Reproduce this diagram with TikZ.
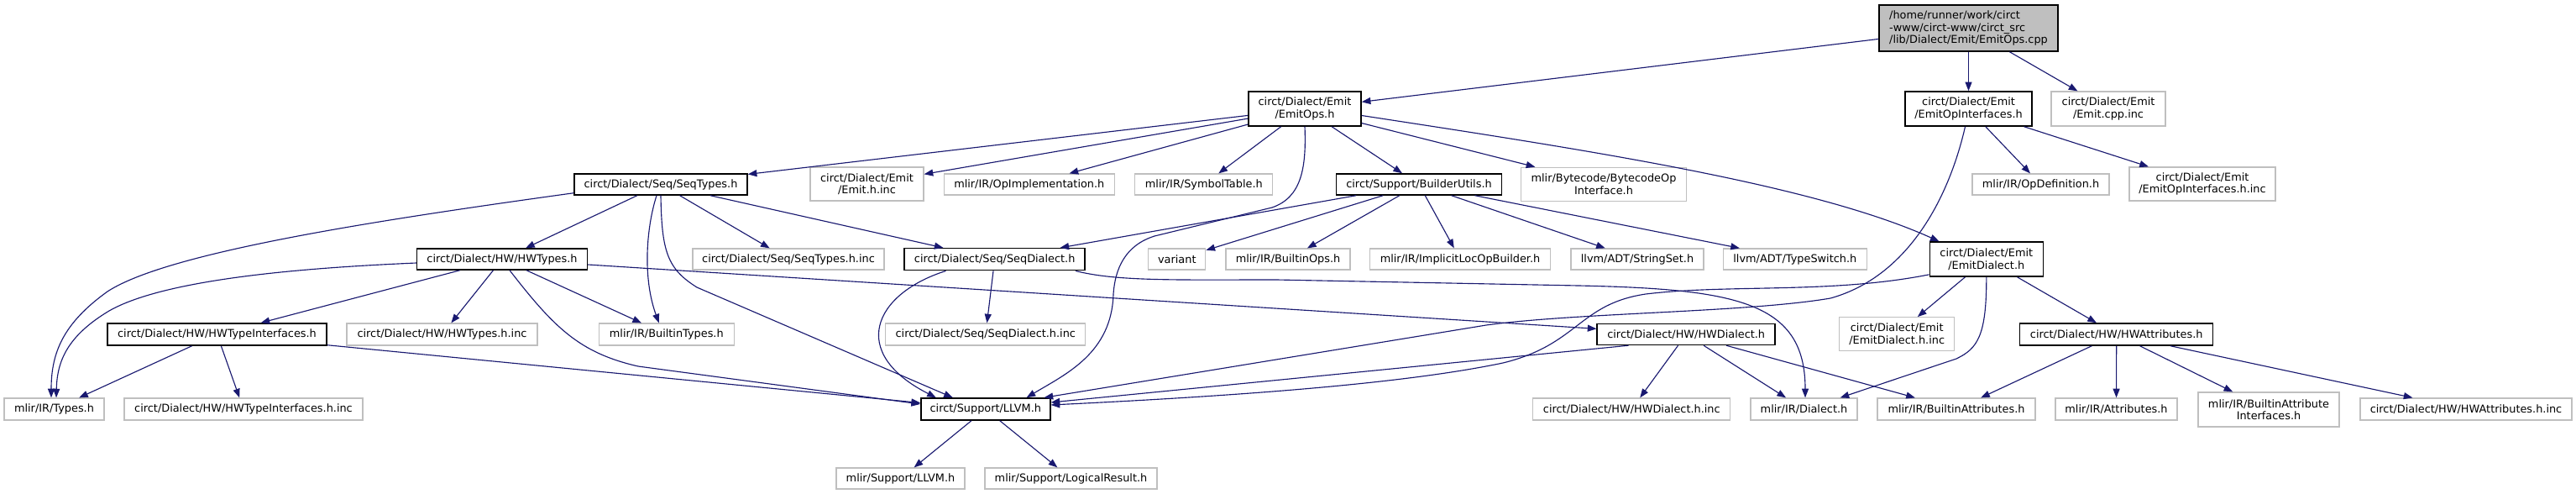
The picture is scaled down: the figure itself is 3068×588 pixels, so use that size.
\documentclass[tikz,border=0pt]{standalone}
\usepackage{fontspec}
\setmainfont{DejaVu Sans}
\usetikzlibrary{arrows.meta, calc}
\definecolor{edgeblue}{HTML}{191970}
\definecolor{boxgray}{HTML}{BFBFBF}

\begin{document}
\begin{tikzpicture}[x=0.75pt, y=-0.75pt,
  font=\fontsize{9.65}{10.8}\selectfont,
  sz/.style 2 args={minimum width=#1*0.75pt, minimum height=#2*0.75pt},
  incfile/.style={draw=boxgray, line width=0.9pt, inner sep=0pt, align=center},
  hdrfile/.style={incfile, draw=black, line width=1.1pt},
  srcfile/.style={hdrfile, fill=boxgray, align=left},
  dep/.style={draw=edgeblue, line width=0.85pt, -{Triangle[length=8pt, width=6pt]}}]

\useasboundingbox (0,0) rectangle (3068,588);

% =========== Source file ===========
\node[srcfile, sz={213}{55}] (emitopscpp) at (2344.5,33.5)
  {/home/runner/work/circt\\-www/circt-www/circt\_src\\/lib/Dialect/Emit/EmitOps.cpp};

% =========== Level 1 ===========
\node[hdrfile, sz={134}{41}] (emitops) at (1554,129.5) {circt/Dialect/Emit\\/EmitOps.h};
\node[hdrfile, sz={151}{41}] (emitopif) at (2344.5,129.5) {circt/Dialect/Emit\\/EmitOpInterfaces.h};
\node[incfile, sz={136}{41}] (emitcppinc) at (2511,129.5) {circt/Dialect/Emit\\/Emit.cpp.inc};

% =========== Level 2 ===========
\node[hdrfile, sz={206}{25}] (seqtypes) at (787,219.5) {circt/Dialect/Seq/SeqTypes.h};
\node[incfile, sz={135}{40}] (emithinc) at (1032.5,219) {circt/Dialect/Emit\\/Emit.h.inc};
\node[incfile, sz={203}{25}] (opimpl) at (1225.8,219.5) {mlir/IR/OpImplementation.h};
\node[incfile, sz={164}{25}] (symtab) at (1433.8,219.5) {mlir/IR/SymbolTable.h};
\node[hdrfile, sz={197}{25}] (builderutils) at (1690,219.5) {circt/Support/BuilderUtils.h};
\node[incfile, sz={197}{40}] (bytecode) at (1910,219.3) {mlir/Bytecode/BytecodeOp\\Interface.h};
\node[incfile, sz={163}{25}] (opdef) at (2430.5,219.5) {mlir/IR/OpDefinition.h};
\node[incfile, sz={174}{40}] (emitopifinc) at (2623,219) {circt/Dialect/Emit\\/EmitOpInterfaces.h.inc};

% =========== Level 3 ===========
\node[hdrfile, sz={203}{25}] (hwtypes) at (598,308.5) {circt/Dialect/HW/HWTypes.h};
\node[incfile, sz={228}{25}] (seqtypesinc) at (939,308.5) {circt/Dialect/Seq/SeqTypes.h.inc};
\node[hdrfile, sz={215}{26}] (seqdialect) at (1184.7,308.7) {circt/Dialect/Seq/SeqDialect.h};
\node[incfile, sz={68}{25}] (variant) at (1401.8,308.5) {variant};
\node[incfile, sz={148}{25}] (builtinops) at (1534,308.5) {mlir/IR/BuiltinOps.h};
\node[incfile, sz={215}{25}] (implicitloc) at (1739,308.5) {mlir/IR/ImplicitLocOpBuilder.h};
\node[incfile, sz={158}{25}] (stringset) at (1950,308.5) {llvm/ADT/StringSet.h};
\node[incfile, sz={171}{25}] (typeswitch) at (2137.8,308.5) {llvm/ADT/TypeSwitch.h};
\node[hdrfile, sz={135}{41}] (emitdialect) at (2365.8,308.6) {circt/Dialect/Emit\\/EmitDialect.h};

% =========== Level 4 ===========
\node[hdrfile, sz={261}{26}] (hwtypeif) at (258.5,398) {circt/Dialect/HW/HWTypeInterfaces.h};
\node[incfile, sz={227}{26}] (hwtypesinc) at (526.5,398) {circt/Dialect/HW/HWTypes.h.inc};
\node[incfile, sz={161}{26}] (builtintypes) at (793.8,398) {mlir/IR/BuiltinTypes.h};
\node[incfile, sz={238}{26}] (seqdialectinc) at (1173.8,398) {circt/Dialect/Seq/SeqDialect.h.inc};
\node[hdrfile, sz={212}{25}] (hwdialect) at (2008.2,398) {circt/Dialect/HW/HWDialect.h};
\node[incfile, sz={137}{40}] (emitdialectinc) at (2259.2,397.7) {circt/Dialect/Emit\\/EmitDialect.h.inc};
\node[hdrfile, sz={230}{26}] (hwattrs) at (2520.7,398) {circt/Dialect/HW/HWAttributes.h};

% =========== Level 5 ===========
\node[incfile, sz={119}{26}] (types) at (64.5,487) {mlir/IR/Types.h};
\node[incfile, sz={284}{26}] (hwtypeifinc) at (290,487) {circt/Dialect/HW/HWTypeInterfaces.h.inc};
\node[hdrfile, sz={154}{26}] (llvm) at (1173.8,487) {circt/Support/LLVM.h};
\node[incfile, sz={235}{26}] (hwdialectinc) at (1943.3,487) {circt/Dialect/HW/HWDialect.h.inc};
\node[incfile, sz={127}{26}] (dialect) at (2148.5,487) {mlir/IR/Dialect.h};
\node[incfile, sz={188}{26}] (builtinattrs) at (2330,487) {mlir/IR/BuiltinAttributes.h};
\node[incfile, sz={145}{26}] (attrs) at (2520.5,487) {mlir/IR/Attributes.h};
\node[incfile, sz={168}{41}] (builtinattrif) at (2702,487.5) {mlir/IR/BuiltinAttribute\\Interfaces.h};
\node[incfile, sz={252}{26}] (hwattrsinc) at (2937,487) {circt/Dialect/HW/HWAttributes.h.inc};

% =========== Level 6 ===========
\node[incfile, sz={153}{25}] (mlirllvm) at (1072.5,569.5) {mlir/Support/LLVM.h};
\node[incfile, sz={205}{25}] (logicalresult) at (1275.5,569.5) {mlir/Support/LogicalResult.h};

% =========== Includes ===========
% source file
\draw[dep] (emitopscpp) -- (emitops);
\draw[dep] (emitopscpp) -- (emitopif);
\draw[dep] (emitopscpp) -- (emitcppinc);

% EmitOps.h
\draw[dep] (emitops) -- (seqtypes);
\draw[dep] (emitops) -- (emithinc);
\draw[dep] (emitops) -- (opimpl);
\draw[dep] (emitops) -- (symtab);
\draw[dep] (emitops) -- (builderutils);
\draw[dep] (emitops) -- (bytecode);
\draw[dep] ($(emitops.east)+(0,8)$) .. controls (1900,180) and (2160,220) .. ($(emitdialect.north west)+(12,0)$);
\draw[dep] (emitops.south) .. controls (1556,200) and (1550,235) .. (1515,247) -- (1375,281)
  .. controls (1340,292) and (1328,320) .. (1326,350) .. controls (1324,420) and (1270,445) .. ($(llvm.north east)+(-29,0)$);

% EmitOpInterfaces.h
\draw[dep] (emitopif) -- (opdef);
\draw[dep] (emitopif) -- (emitopifinc);
\draw[dep] ($(emitopif.south)+(-4,0)$) .. controls (2320,240) and (2270,330) .. (2180,355)
  .. controls (2080,372) and (1880,372) .. (1770,387) -- ($(llvm.north east)+(-8,0)$);

% SeqTypes.h
\draw[dep] ($(seqtypes.south west)+(0,-3)$) .. controls (450,262) and (200,300) .. (128,347)
  .. controls (75,385) and (61,420) .. ($(types.north)+(-3.5,0)$);
\draw[dep] (seqtypes) -- (hwtypes);
\draw[dep] ($(seqtypes.south)+(-5,0)$) .. controls (770,270) and (765,330) .. ($(builtintypes.north)+(-9,0)$);
\draw[dep] (seqtypes.south) .. controls (788,300) and (795,320) .. (830,342) -- ($(llvm.north)+(-39,0)$);
\draw[dep] (seqtypes) -- (seqtypesinc);
\draw[dep] (seqtypes) -- (seqdialect);

% BuilderUtils.h
\draw[dep] (builderutils) -- (seqdialect);
\draw[dep] (builderutils) -- (variant);
\draw[dep] (builderutils) -- (builtinops);
\draw[dep] (builderutils) -- (implicitloc);
\draw[dep] (builderutils) -- (stringset);
\draw[dep] (builderutils) -- (typeswitch);

% HWTypes.h
\draw[dep] ($(hwtypes.west)+(0,4.5)$) .. controls (380,318) and (200,330) .. (130,370)
  .. controls (80,400) and (68,430) .. ($(types.north)+(2.5,0)$);
\draw[dep] (hwtypes) -- (hwtypeif);
\draw[dep] (hwtypes) -- (hwtypesinc);
\draw[dep] (hwtypes) -- (builtintypes);
\draw[dep] ($(hwtypes.south)+(9,0)$) .. controls (660,390) and (690,420) .. (760,436) -- ($(llvm.west)+(0,-6)$);
\draw[dep] (hwtypes) -- (hwdialect);

% SeqDialect.h
\draw[dep] ($(seqdialect.south west)+(50,0)$) .. controls (1040,350) and (1010,420) .. ($(llvm.north)+(-59,0)$);
\draw[dep] (seqdialect) -- (seqdialectinc);
\draw[dep] ($(seqdialect.south east)+(-12,0)$) .. controls (1330,335) and (1400,333) .. (1520,333) -- (1880,340)
  .. controls (2070,344) and (2150,360) .. ($(dialect.north)+(1.5,0)$);

% EmitDialect.h
\draw[dep] ($(emitdialect.south west)+(0,-3)$) .. controls (2180,350) and (2060,338) .. (1960,350)
  .. controls (1880,362) and (1880,410) .. (1790,432) .. controls (1680,455) and (1500,470) .. ($(llvm.east)+(0,-5)$);
\draw[dep] (emitdialect) -- (emitdialectinc);
\draw[dep] (emitdialect.south) .. controls (2366,400) and (2355,415) .. (2330,427) -- ($(dialect.north east)+(-21,0)$);
\draw[dep] (emitdialect) -- (hwattrs);

% HWTypeInterfaces.h
\draw[dep] (hwtypeif) -- (types);
\draw[dep] (hwtypeif) -- (hwtypeifinc);
\draw[dep] (hwtypeif) -- (llvm);

% HWDialect.h
\draw[dep] ($(hwdialect.south west)+(38,0)$) -- ($(llvm.east)+(0,-8)$);
\draw[dep] (hwdialect) -- (hwdialectinc);
\draw[dep] (hwdialect) -- (dialect);
\draw[dep] (hwdialect) -- (builtinattrs);

% HWAttributes.h
\draw[dep] (hwattrs) -- (builtinattrs);
\draw[dep] (hwattrs) -- (attrs);
\draw[dep] (hwattrs) -- (builtinattrif);
\draw[dep] (hwattrs) -- (hwattrsinc);

% LLVM.h
\draw[dep] (llvm) -- (mlirllvm);
\draw[dep] (llvm) -- (logicalresult);

\end{tikzpicture}
\end{document}
